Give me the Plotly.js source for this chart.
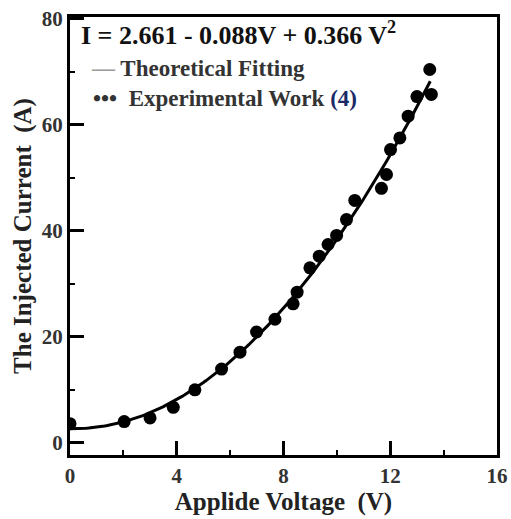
<!DOCTYPE html>
<html>
<head>
<meta charset="utf-8">
<script src="https://cdn.plot.ly/plotly-3.0.1.min.js"></script>
<style>html,body{margin:0;padding:0;background:#fff;}#chart{width:511px;height:519px;}</style>
</head>
<body>
<div id="chart"></div>
<script>
const voltage = [0, 2.03, 3.0, 3.87, 4.68, 5.68, 6.37, 6.99, 7.68, 8.36, 8.51, 8.99, 9.34, 9.67, 9.99, 10.36, 10.67, 11.67, 11.86, 12.01, 12.36, 12.67, 13.0, 13.54, 13.48];
const current = [3.6, 4.0, 4.7, 6.7, 10.0, 13.9, 17.1, 20.9, 23.3, 26.2, 28.4, 33.0, 35.2, 37.4, 39.1, 42.1, 45.7, 48.0, 50.6, 55.3, 57.5, 61.6, 65.3, 65.7, 70.4];
// Fit coefficients: I = a + b V + c V^2
const fitA = 2.661, fitB = -0.088, fitC = 0.366;
const fitV = [];
for (let i = 0; i <= 135; i++) fitV.push(i / 10);
const fitI = fitV.map(v => fitA + fitB * v + fitC * v * v);
const xTicks = [0, 4, 8, 12, 16];
const yTicks = [0, 20, 40, 60, 80];

const font = 'Liberation Serif, Times New Roman, serif';
const traces = [
  {x: fitV, y: fitI, mode: 'lines', line: {color: '#000', width: 3}, showlegend: false, hoverinfo: 'skip'},
  {x: voltage, y: current, mode: 'markers', marker: {color: '#000', size: 13}, showlegend: false}
];
const axisCommon = {
  showgrid: false, zeroline: false, showline: true, linecolor: '#000', linewidth: 3,
  mirror: true, ticks: 'inside', ticklen: 14, tickwidth: 3, tickcolor: '#000',
  tickfont: {family: font, size: 21, color: '#333'}
};
const layout = {
  width: 511, height: 519,
  margin: {l: 70, r: 14, t: 17, b: 64},
  paper_bgcolor: '#fff', plot_bgcolor: '#fff',
  font: {family: font},
  xaxis: Object.assign({}, axisCommon, {
    range: [0, 16], tickvals: xTicks, ticktext: xTicks.map(t => '<b>' + t + '</b>'),
    minor: {tickvals: [2, 6, 10, 14], ticklen: 5, tickwidth: 2, tickcolor: '#000', ticks: 'inside'},
    title: {text: '<b>Applide Voltage  (V)</b>', font: {family: font, size: 25, color: '#222'}, standoff: 6}
  }),
  yaxis: Object.assign({}, axisCommon, {
    range: [-2.3, 80.3], tickvals: yTicks, ticktext: yTicks.map(t => '<b>' + t + '</b>'),
    minor: {tickvals: [10, 30, 50, 70], ticklen: 5, tickwidth: 2, tickcolor: '#000', ticks: 'inside'},
    title: {text: '<b>The Injected Current  (A)</b>', font: {family: font, size: 25, color: '#222'}, standoff: 4}
  }),
  annotations: [
    {xref: 'paper', yref: 'paper', x: 0.02, y: 0.962, xanchor: 'left', yanchor: 'middle', showarrow: false,
     text: '<b>I = 2.661 - 0.088V + 0.366 V<sup>2</sup></b>', font: {family: font, size: 26, color: '#111'}},
    {xref: 'paper', yref: 'paper', x: 0.045, y: 0.882, xanchor: 'left', yanchor: 'middle', showarrow: false,
     text: '<b><span style="color:#999">—</span> Theoretical Fitting</b>', font: {family: font, size: 23, color: '#333'}},
    {xref: 'paper', yref: 'paper', x: 0.05, y: 0.813, xanchor: 'left', yanchor: 'middle', showarrow: false,
     text: '<b>•••  Experimental Work <span style="color:#1a2a66">(4)</span></b>', font: {family: font, size: 23, color: '#333'}}
  ]
};
Plotly.newPlot('chart', traces, layout, {staticPlot: true, displayModeBar: false});
</script>
</body>
</html>
